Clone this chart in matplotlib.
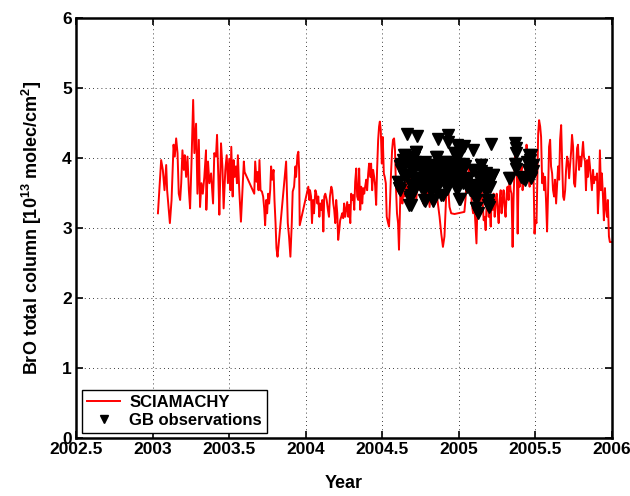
import matplotlib
matplotlib.use('Agg')
import matplotlib.pyplot as plt

plt.rcParams['font.family'] = ['Liberation Sans', 'DejaVu Sans']
plt.rcParams['font.weight'] = 'bold'
plt.rcParams['mathtext.fontset'] = 'custom'
plt.rcParams['mathtext.rm'] = 'Liberation Sans:bold'
plt.rcParams['mathtext.bf'] = 'Liberation Sans:bold'
plt.rcParams['mathtext.default'] = 'bf'

# SCIAMACHY BrO total column (decimal year, 1e13 molec/cm2)
sci_year = [
    2003.035, 2003.056, 2003.067, 2003.078, 2003.089, 2003.095, 2003.102, 2003.113, 2003.124, 2003.137,
    2003.145, 2003.154, 2003.163, 2003.171, 2003.180, 2003.187, 2003.195, 2003.204, 2003.210, 2003.219,
    2003.228, 2003.237, 2003.245, 2003.254, 2003.265, 2003.273, 2003.284, 2003.293, 2003.302, 2003.310,
    2003.319, 2003.328, 2003.338, 2003.349, 2003.351, 2003.362, 2003.371, 2003.382, 2003.395, 2003.403,
    2003.414, 2003.421, 2003.430, 2003.436, 2003.447, 2003.456, 2003.464, 2003.475, 2003.484, 2003.492,
    2003.501, 2003.508, 2003.514, 2003.523, 2003.529, 2003.536, 2003.544, 2003.551, 2003.557, 2003.566,
    2003.577, 2003.588, 2003.596, 2003.601, 2003.664, 2003.670, 2003.679, 2003.685, 2003.692, 2003.698,
    2003.705, 2003.714, 2003.722, 2003.729, 2003.735, 2003.742, 2003.748, 2003.755, 2003.761, 2003.768,
    2003.774, 2003.781, 2003.790, 2003.796, 2003.803, 2003.809, 2003.816, 2003.872, 2003.883, 2003.891,
    2003.900, 2003.909, 2003.915, 2003.924, 2003.933, 2003.937, 2003.946, 2003.952, 2003.957, 2003.961,
    2004.017, 2004.024, 2004.028, 2004.035, 2004.041, 2004.048, 2004.054, 2004.063, 2004.069, 2004.076,
    2004.082, 2004.089, 2004.095, 2004.102, 2004.108, 2004.115, 2004.121, 2004.128, 2004.137, 2004.145,
    2004.152, 2004.158, 2004.167, 2004.173, 2004.180, 2004.186, 2004.193, 2004.199, 2004.206, 2004.212,
    2004.219, 2004.225, 2004.232, 2004.238, 2004.245, 2004.251, 2004.258, 2004.264, 2004.271, 2004.278,
    2004.284, 2004.291, 2004.297, 2004.304, 2004.310, 2004.317, 2004.323, 2004.330, 2004.336, 2004.343,
    2004.349, 2004.356, 2004.362, 2004.369, 2004.375, 2004.382, 2004.388, 2004.395, 2004.401, 2004.408,
    2004.414, 2004.421, 2004.427, 2004.434, 2004.440, 2004.447, 2004.453, 2004.460, 2004.466, 2004.473,
    2004.479, 2004.484, 2004.490, 2004.497, 2004.503, 2004.510, 2004.516, 2004.523, 2004.529, 2004.538,
    2004.544, 2004.551, 2004.557, 2004.564, 2004.570, 2004.577, 2004.583, 2004.590, 2004.596, 2004.603,
    2004.609, 2004.618, 2004.625, 2004.631, 2004.638, 2004.646, 2004.657, 2004.668, 2004.679, 2004.690,
    2004.700, 2004.711, 2004.722, 2004.733, 2004.744, 2004.755, 2004.766, 2004.776, 2004.787, 2004.798,
    2004.809, 2004.820, 2004.831, 2004.841, 2004.852, 2004.863, 2004.874, 2004.885, 2004.896, 2004.906,
    2004.917, 2004.928, 2004.939, 2004.950, 2004.972, 2005.036, 2005.043, 2005.050, 2005.058, 2005.067,
    2005.076, 2005.084, 2005.093, 2005.102, 2005.108, 2005.115, 2005.121, 2005.128, 2005.134, 2005.141,
    2005.147, 2005.156, 2005.162, 2005.169, 2005.175, 2005.182, 2005.188, 2005.195, 2005.201, 2005.208,
    2005.214, 2005.221, 2005.227, 2005.234, 2005.240, 2005.247, 2005.253, 2005.260, 2005.266, 2005.273,
    2005.279, 2005.286, 2005.292, 2005.299, 2005.305, 2005.312, 2005.318, 2005.325, 2005.331, 2005.338,
    2005.344, 2005.351, 2005.357, 2005.364, 2005.371, 2005.377, 2005.384, 2005.390, 2005.397, 2005.403,
    2005.410, 2005.416, 2005.423, 2005.429, 2005.436, 2005.442, 2005.449, 2005.455, 2005.462, 2005.468,
    2005.475, 2005.481, 2005.488, 2005.494, 2005.501, 2005.507, 2005.511, 2005.518, 2005.524, 2005.531,
    2005.537, 2005.544, 2005.550, 2005.557, 2005.563, 2005.570, 2005.576, 2005.583, 2005.589, 2005.596,
    2005.602, 2005.609, 2005.615, 2005.622, 2005.628, 2005.635, 2005.642, 2005.648, 2005.655, 2005.661,
    2005.668, 2005.674, 2005.681, 2005.687, 2005.694, 2005.700, 2005.707, 2005.713, 2005.720, 2005.726,
    2005.733, 2005.739, 2005.746, 2005.752, 2005.759, 2005.765, 2005.772, 2005.778, 2005.785, 2005.791,
    2005.798, 2005.804, 2005.811, 2005.817, 2005.824, 2005.830, 2005.837, 2005.843, 2005.850, 2005.856,
    2005.863, 2005.869, 2005.876, 2005.882, 2005.889, 2005.895, 2005.902, 2005.908, 2005.915, 2005.921,
    2005.928, 2005.934, 2005.941, 2005.947, 2005.954, 2005.960, 2005.967, 2005.973, 2005.980, 2005.986,
    2005.998,
]
sci_bro = [
    3.21, 3.97, 3.83, 3.54, 3.90, 3.54, 3.35, 3.07, 3.40, 4.19,
    4.02, 4.28, 4.07, 3.49, 3.40, 3.64, 4.11, 3.83, 4.04, 3.73,
    4.02, 3.54, 3.28, 3.92, 4.83, 4.07, 4.49, 3.49, 4.26, 3.30,
    3.64, 3.49, 3.73, 4.11, 3.26, 3.95, 3.64, 3.78, 3.35, 4.07,
    4.02, 4.33, 3.69, 3.19, 4.21, 3.88, 3.28, 3.83, 4.04, 3.64,
    3.99, 3.54, 4.16, 3.45, 3.97, 3.73, 3.88, 3.64, 4.04, 3.54,
    3.09, 3.59, 3.95, 3.80, 3.49, 3.95, 3.66, 3.80, 3.54, 3.97,
    3.54, 3.52, 3.45, 3.28, 3.04, 3.40, 3.21, 3.49, 3.35, 3.54,
    3.88, 3.69, 3.83, 3.40, 3.07, 2.71, 2.59, 3.95, 3.07, 2.88,
    2.59, 3.07, 3.52, 3.59, 3.88, 3.73, 4.04, 4.09, 3.83, 3.04,
    3.59, 3.40, 3.54, 3.45, 3.07, 3.40, 3.21, 3.54, 3.49, 3.35,
    3.45, 3.16, 3.35, 3.26, 3.40, 2.95, 3.45, 3.49, 3.40, 3.26,
    3.16, 3.45, 3.59, 3.54, 3.35, 3.26, 3.07, 3.40, 3.21, 2.83,
    2.97, 3.11, 3.16, 3.21, 3.14, 3.35, 3.16, 3.26, 3.37, 3.16,
    3.33, 3.07, 3.49, 3.40, 3.47, 3.26, 3.66, 3.85, 3.45, 3.40,
    3.85, 3.26, 3.59, 3.35, 3.57, 3.49, 3.59, 3.69, 3.54, 3.78,
    3.92, 3.73, 3.92, 3.54, 3.83, 3.73, 3.61, 3.33, 3.83, 4.26,
    4.45, 4.52, 4.40, 3.92, 4.30, 3.78, 3.73, 3.64, 3.16, 3.07,
    3.02, 3.40, 3.78, 4.11, 4.26, 4.28, 4.11, 3.54, 3.21, 3.07,
    2.69, 3.49, 3.69, 3.35, 3.54, 3.45, 3.73, 3.35, 3.59, 3.88,
    3.49, 3.69, 3.40, 3.78, 3.54, 3.64, 3.35, 3.73, 3.45, 3.59,
    3.30, 3.69, 3.49, 3.40, 3.54, 3.35, 3.16, 2.92, 2.73, 2.88,
    3.45, 3.64, 3.30, 3.21, 3.20, 3.23, 3.40, 3.64, 3.59, 3.97,
    3.73, 3.35, 3.21, 3.30, 3.07, 2.78, 3.30, 3.54, 3.21, 3.40,
    3.59, 3.35, 3.11, 3.16, 2.97, 3.40, 3.49, 3.16, 3.30, 3.02,
    3.45, 3.26, 3.49, 3.16, 3.40, 3.49, 3.26, 3.07, 3.40, 3.54,
    3.21, 3.40, 3.54, 3.30, 3.16, 3.49, 3.59, 3.40, 3.73, 3.54,
    3.49, 2.73, 3.40, 3.88, 4.26, 4.11, 2.92, 3.73, 3.59, 3.78,
    3.88, 3.54, 3.69, 3.73, 3.88, 4.19, 3.92, 4.04, 3.59, 4.02,
    3.69, 3.97, 3.73, 2.92, 3.11, 3.07, 3.54, 4.35, 4.54, 4.45,
    4.30, 3.64, 3.78, 3.54, 3.73, 3.35, 2.95, 3.54, 4.16, 4.26,
    3.88, 3.78, 3.54, 3.45, 3.69, 3.35, 3.64, 3.88, 3.69, 4.26,
    4.47, 3.97, 3.45, 3.40, 3.54, 3.83, 4.02, 3.95, 3.71, 3.88,
    4.09, 4.33, 4.16, 3.64, 3.59, 3.83, 4.14, 4.19, 3.83, 4.02,
    3.88, 4.04, 4.23, 4.02, 3.95, 3.54, 3.97, 3.73, 4.02, 3.88,
    3.69, 3.54, 3.83, 3.64, 3.73, 3.69, 3.78, 3.21, 3.54, 4.11,
    3.54, 3.78, 3.45, 3.11, 3.57, 3.30, 3.16, 3.40, 2.88, 2.80,
    2.80,
]

# ground-based observations
gb_year = [
    2004.661, 2004.726, 2004.861, 2004.926, 2004.930, 2004.991, 2005.024, 2004.640, 2004.655, 2004.720,
    2004.709, 2004.857, 2004.969, 2005.002, 2004.622, 2004.633, 2004.698, 2004.731, 2004.752, 2004.796,
    2004.817, 2004.883, 2004.915, 2004.937, 2004.969, 2005.002, 2005.024, 2004.774, 2004.839, 2004.893,
    2004.948, 2004.666, 2004.709, 2004.742, 2004.785, 2004.828, 2004.861, 2004.904, 2004.958, 2005.002,
    2005.034, 2004.601, 2004.611, 2004.726, 2004.752, 2004.807, 2004.850, 2004.926, 2004.980, 2005.024,
    2004.774, 2004.817, 2004.698, 2004.883, 2004.683, 2004.677, 2004.774, 2004.828, 2005.002, 2004.687,
    2005.034, 2005.093, 2005.212, 2005.364, 2005.375, 2005.375, 2005.472, 2005.462, 2005.483, 2005.364,
    2005.375, 2005.451, 2005.017, 2005.028, 2005.093, 2005.147, 2005.147, 2005.180, 2005.223, 2005.125,
    2005.190, 2005.331, 2005.407, 2005.472, 2005.429, 2005.039, 2005.104, 2005.169, 2005.201, 2005.071,
    2005.125, 2005.180, 2005.114, 2005.190, 2005.114, 2005.190,
    2004.646, 2004.635, 2004.722, 2004.711, 2004.852, 2004.972, 2005.460, 2004.614, 2004.624, 2004.679,
    2004.744, 2004.776, 2004.809, 2004.841, 2004.885, 2004.917, 2004.961, 2005.004, 2005.037, 2005.145,
    2005.373, 2005.442, 2004.603, 2004.614, 2004.690, 2004.733, 2004.787, 2004.831, 2004.874, 2004.939,
    2004.982, 2005.047, 2005.091, 2005.156, 2005.221, 2005.329, 2005.416, 2005.481, 2005.470, 2004.679,
    2004.690, 2004.776, 2004.831, 2004.896, 2005.008, 2005.113, 2005.123, 2005.188, 2005.199, 2005.113,
    2004.700, 2004.760, 2004.800, 2004.870, 2004.950, 2005.060, 2005.140, 2005.160, 2005.200, 2004.640,
    2004.720, 2004.850, 2004.920, 2004.990, 2005.050,
]
gb_bro = [
    4.34, 4.31, 4.27, 4.33, 4.23, 4.19, 4.16, 4.04, 3.99, 4.09,
    4.02, 4.02, 4.07, 4.04, 3.92, 3.85, 3.95, 3.92, 3.88, 3.90,
    3.85, 3.92, 3.95, 3.88, 3.92, 3.88, 3.92, 3.81, 3.83, 3.83,
    3.81, 3.76, 3.71, 3.69, 3.73, 3.76, 3.71, 3.73, 3.71, 3.76,
    3.71, 3.66, 3.57, 3.64, 3.59, 3.61, 3.61, 3.64, 3.61, 3.64,
    3.54, 3.52, 3.52, 3.47, 3.42, 3.33, 3.40, 3.38, 3.42, 3.47,
    4.17, 4.12, 4.20, 4.21, 4.14, 4.07, 4.04, 3.97, 3.90, 3.92,
    3.85, 3.83, 3.90, 3.83, 3.83, 3.90, 3.81, 3.78, 3.76, 3.73,
    3.71, 3.71, 3.73, 3.73, 3.69, 3.66, 3.61, 3.64, 3.59, 3.54,
    3.54, 3.52, 3.40, 3.38, 3.28, 3.33,
    4.04, 3.97, 4.09, 3.95, 4.02, 4.07, 4.04, 3.88, 3.83, 3.88,
    3.92, 3.95, 3.88, 3.90, 3.92, 3.95, 3.90, 3.92, 3.88, 3.90,
    3.92, 3.95, 3.66, 3.54, 3.61, 3.66, 3.69, 3.64, 3.66, 3.69,
    3.66, 3.64, 3.83, 3.76, 3.76, 3.71, 3.71, 3.81, 3.71, 3.45,
    3.33, 3.38, 3.40, 3.47, 3.41, 3.28, 3.21, 3.40, 3.30, 3.47,
    3.80, 3.80, 3.74, 3.78, 3.77, 3.70, 3.62, 3.67, 3.65, 3.75,
    3.58, 3.55, 3.56, 3.55, 3.58,
]

fig = plt.figure(figsize=(6.3, 4.96), dpi=100)
ax = fig.add_axes([76 / 630, 58 / 496, 536 / 630, 420 / 496])

ax.plot(sci_year, sci_bro, color='red', lw=1.4, label='SCIAMACHY')
ax.plot(gb_year, gb_bro, 'v', color='black', ms=8.5, ls='none', label='GB observations')

ax.set_xlim(2002.5, 2006)
ax.set_ylim(0, 6)
ax.set_xticks([2002.5, 2003, 2003.5, 2004, 2004.5, 2005, 2005.5, 2006])
ax.set_xticklabels(['2002.5', '2003', '2003.5', '2004', '2004.5', '2005', '2005.5', '2006'])
ax.set_yticks([0, 1, 2, 3, 4, 5, 6])
ax.grid(True, color='black', linestyle=(0, (1, 4)), linewidth=0.6)
ax.tick_params(direction='in', top=True, right=True, length=5, width=1.2,
               labelsize=12.5, pad=3)
for sp in ax.spines.values():
    sp.set_linewidth(1.8)

ax.set_xlabel('Year', fontsize=13, fontweight='bold', labelpad=13)
ax.set_ylabel(r'BrO total column [10$^{13}$ molec/cm$^{2}$]', fontsize=13,
              fontweight='bold', labelpad=13)

leg = ax.legend(loc='lower left', bbox_to_anchor=(0.011, 0.012), borderaxespad=0,
                fancybox=False, framealpha=1, edgecolor='black', fontsize=12,
                handlelength=2.0, handletextpad=0.55, markerscale=0.6,
                borderpad=0.3, labelspacing=0.2)
leg.get_frame().set_linewidth(1.0)

fig.savefig('out.png', dpi=100)
